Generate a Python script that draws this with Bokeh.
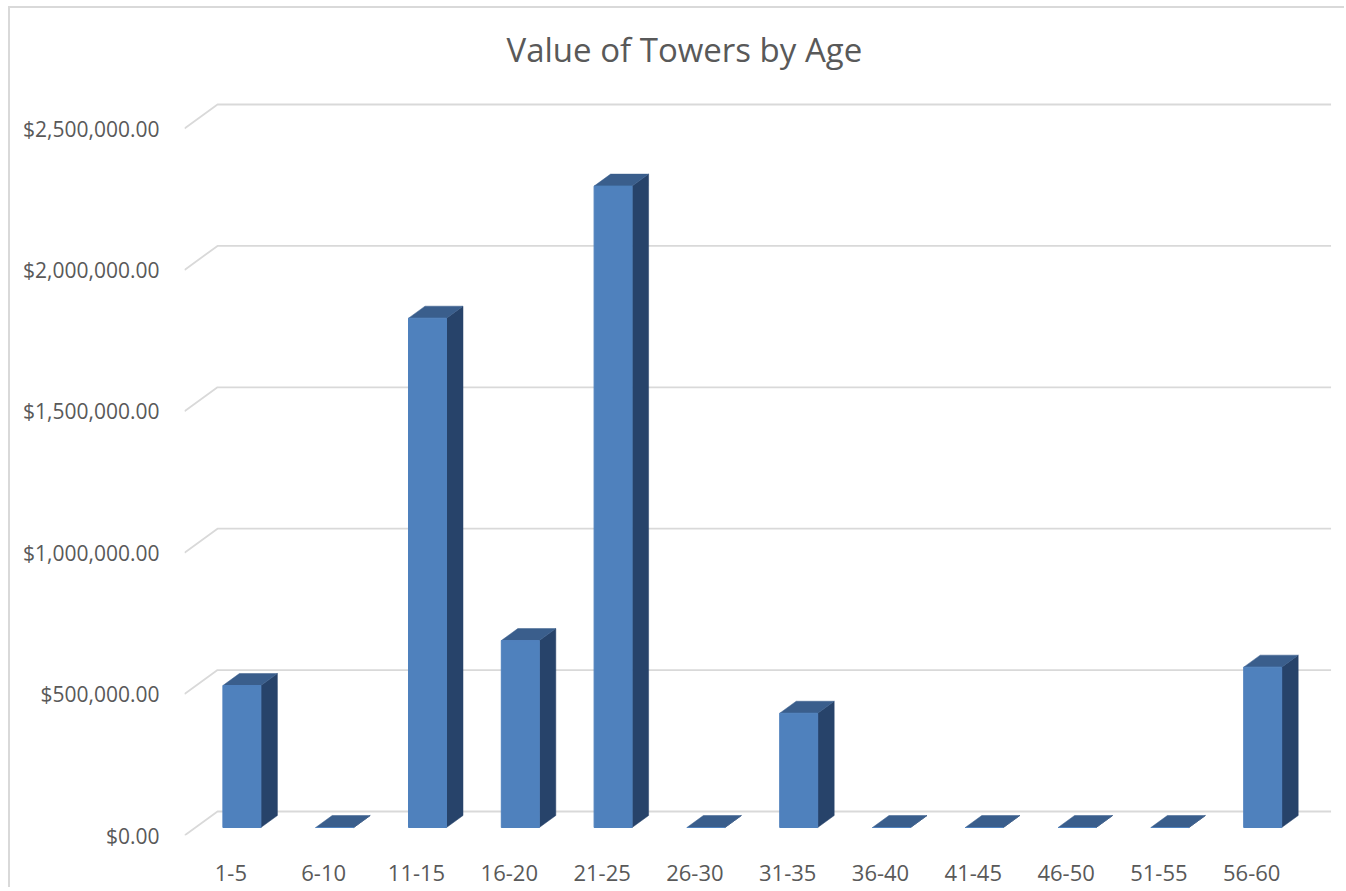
from bokeh.plotting import figure
from bokeh.models import Range1d, FixedTicker, NumeralTickFormatter, CustomJSTickFormatter
from bokeh.embed import file_html
from bokeh.resources import INLINE

# ---- data ----
categories = ["1-5", "6-10", "11-15", "16-20", "21-25", "26-30",
              "31-35", "36-40", "41-45", "46-50", "51-55", "56-60"]
values = [502000, 0, 1801000, 661000, 2268000, 0, 404000, 0, 0, 0, 0, 567000]
y_ticks = [0, 500000, 1000000, 1500000, 2000000, 2500000]
title_text = "Value of Towers by Age"

# ---- geometry / style constants ----
W, H = 1336, 881
ML, MR, MT, MB = 174, 15, 66, 54
PX_PER_CAT = 92.8
PX_PER_VAL = 282.8e-6
FRAME_W = W - ML - MR
FRAME_H = H - MT - MB
WALL_DX = 33 / PX_PER_CAT          # depth of floor, in x data units
WALL_DY = 24 / PX_PER_VAL          # depth of floor, in y data units
BAR_W = 38 / PX_PER_CAT
BAR_T0 = 1 / 3                     # bar front position in depth
BAR_T = 0.5                        # bar depth fraction
FRONT = "#4F81BD"
TOP = "#3A5E8C"
SIDE = "#27436A"
GRID = "#D9D9D9"
TXT = "#595959"
FONT = "Open Sans"

n = len(categories)
p = figure(width=W, height=H, output_backend="svg", toolbar_location=None,
           x_range=Range1d(0, FRAME_W / PX_PER_CAT),
           y_range=Range1d(0, FRAME_H / PX_PER_VAL),
           min_border_left=ML, min_border_right=MR,
           min_border_top=MT, min_border_bottom=MB,
           title=title_text)
p.margin = (8, 0, 0, 10)
p.styles = {"box-shadow": "-2px -2px 0px 0px #D9D9D9", "background-color": "white"}
p.outline_line_color = None
p.xgrid.visible = False
p.ygrid.visible = False
p.background_fill_color = "white"
p.border_fill_color = "white"

p.title.align = "left"
p.title.offset = 322
p.title.text_font = FONT
p.title.text_font_size = "33px"
p.title.text_font_style = "normal"
p.title.text_color = TXT
p.title.standoff = 6

# ---- wall gridlines (floor slant + back wall) ----
gx, gy = [], []
for v in y_ticks:
    gx.append([0, WALL_DX, n + WALL_DX])
    gy.append([v, v + WALL_DY, v + WALL_DY])
p.multi_line(gx, gy, line_color=GRID, line_width=1.8)

# ---- 3D bars ----
ox = BAR_T0 * WALL_DX
oy = BAR_T0 * WALL_DY
bdx = BAR_T * WALL_DX
bdy = BAR_T * WALL_DY
left, right, bottom, top = [], [], [], []
top_x, top_y, side_x, side_y = [], [], [], []
for i, v in enumerate(values):
    cx = i + 0.5
    xl = cx - BAR_W / 2 + ox
    xr = cx + BAR_W / 2 + ox
    y0 = oy
    y1 = v + oy
    left.append(xl); right.append(xr); bottom.append(y0); top.append(y1)
    top_x.append([xl, xr, xr + bdx, xl + bdx])
    top_y.append([y1, y1, y1 + bdy, y1 + bdy])
    side_x.append([xr, xr, xr + bdx, xr + bdx])
    side_y.append([y0, y1, y1 + bdy, y0 + bdy])

p.patches(side_x, side_y, fill_color=SIDE, line_color=SIDE, line_width=0.5)
p.patches(top_x, top_y, fill_color=TOP, line_color=TOP, line_width=0.5)
p.quad(left=left, right=right, bottom=bottom, top=top,
       fill_color=FRONT, line_color=FRONT, line_width=1)

# ---- axes ----
yax = p.yaxis[0]
yax.ticker = FixedTicker(ticks=y_ticks)
yax.formatter = NumeralTickFormatter(format="$0,0.00")
yax.axis_line_color = None
yax.major_tick_line_color = None
yax.minor_tick_line_color = None
yax.major_label_standoff = 19
yax.major_label_text_font = FONT
yax.major_label_text_font_size = "21px"
yax.major_label_text_color = TXT

xax = p.xaxis[0]
xax.ticker = FixedTicker(ticks=[i + 0.5 for i in range(n)])
xax.formatter = CustomJSTickFormatter(args=dict(cats=categories),
                                      code="const k = Math.round(tick - 0.5); return (k >= 0 && k < cats.length) ? cats[k] : '';")
xax.axis_line_color = None
xax.major_tick_line_color = None
xax.minor_tick_line_color = None
xax.major_label_standoff = 23
xax.major_label_text_font = FONT
xax.major_label_text_font_size = "22px"
xax.major_label_text_color = TXT

open("out.html", "w").write(file_html(p, INLINE))
